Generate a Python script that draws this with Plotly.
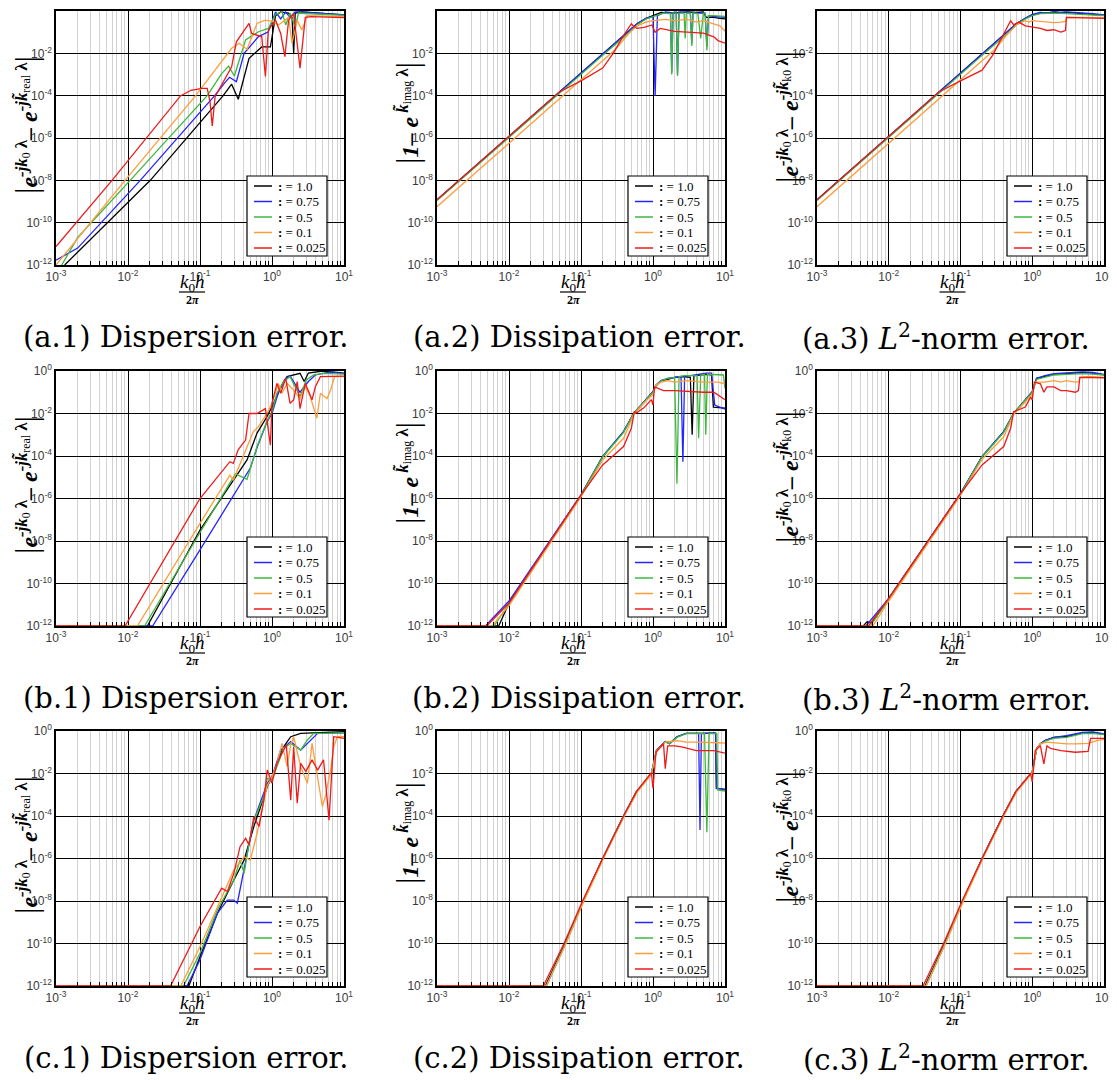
import plotly.graph_objects as go

PAGE_W, PAGE_H = 1117, 1080
OFF = 8                      # default body margin of the html page
W, H = PAGE_W - OFF, PAGE_H - OFF

# ---------------- data ----------------
# Panel a.1  Dispersion error
A1_BLACK_X = [1.32e-3, 0.0204, 0.21, 0.24, 0.275, 0.34, 0.48, 0.72, 0.95, 1.12, 1.32, 1.7, 1.9, 2.0, 2.1, 2.6, 10]
A1_BLACK_Y = [1e-12, 1e-8, 1e-4, 2e-4, 3.5e-4, 6.8e-5, 5.8e-3, 0.02, 0.02, 0.6, 0.9, 0.8, 0.5, 0.01, 0.8, 0.9, 0.65]
A1_BLUE_X = [1e-3, 2e-3, 0.0148, 0.16, 0.22, 0.257, 0.32, 0.41, 0.65, 0.89, 1.12, 1.32, 1.55, 1.78, 2.1, 2.5, 10]
A1_BLUE_Y = [1.7e-12, 6.3e-12, 1e-8, 1e-4, 4e-4, 7.4e-4, 4.6e-4, 0.01, 0.062, 0.105, 0.9, 0.42, 0.9, 0.5, 0.9, 0.9, 0.65]
A1_GREEN_X = [1.2e-3, 2e-3, 0.0107, 0.126, 0.2, 0.25, 0.30, 0.43, 0.65, 0.89, 1.12, 1.38, 1.55, 1.78, 2.1, 2.34, 2.9, 10]
A1_GREEN_Y = [1e-12, 2e-11, 1e-8, 1e-4, 1.1e-3, 2.5e-3, 8.5e-4, 0.043, 0.105, 0.15, 0.7, 0.9, 0.22, 0.8, 0.18, 0.8, 0.76, 0.62]
A1_ORANGE_X = [1e-3, 9.1e-3, 0.087, 0.275, 0.35, 0.45, 0.62, 0.81, 1.0, 1.23, 1.7, 1.9, 2.24, 2.6, 3.1, 10]
A1_ORANGE_Y = [1e-12, 1e-8, 1e-4, 0.0174, 0.03, 0.0155, 0.26, 0.37, 0.32, 0.22, 0.5, 0.03, 0.35, 0.126, 0.6, 0.54]
A1_RED_X = [1e-3, 6e-3, 0.054, 0.075, 0.107, 0.126, 0.138, 0.148, 0.162, 0.275, 0.32, 0.48, 0.52, 0.72, 0.81, 0.89,
            1.12, 1.32, 1.51, 1.7, 2.0, 2.14, 2.45, 2.9, 3.5, 10]
A1_RED_Y = [7.4e-12, 1e-8, 1e-4, 1.8e-4, 2.2e-4, 2.2e-4, 5e-5, 3.7e-6, 9e-5, 2.3e-3, 0.035, 0.26, 0.087, 0.062, 8e-4, 0.126,
            0.37, 0.087, 6.9e-3, 0.37, 0.74, 0.11, 2e-3, 0.5, 0.54, 0.49]

# Panel a.2  Dissipation error
A2_BLACK_X = [1e-3, 0.1, 0.4, 0.6, 0.8, 1.0, 1.3, 2.0, 3.0, 4.0, 5.0, 5.5, 7.0, 8.5, 10]
A2_BLACK_Y = [1.2e-9, 1.2e-3, 0.075, 0.25, 0.45, 0.6, 0.85, 0.8, 0.9, 0.85, 0.9, 0.5, 0.5, 0.45, 0.42]
A2_BLUE_X = [1e-3, 0.1, 0.4, 0.6, 0.8, 1.0, 1.07, 1.15, 1.5, 1.75, 1.82, 1.9, 2.1, 2.19, 2.3, 2.7, 3.0, 3.3, 3.46, 3.6,
             4.2, 5.3, 5.6, 5.9, 7.0, 10]
A2_BLUE_Y = [1.2e-9, 1.2e-3, 0.074, 0.25, 0.45, 0.55, 1e-4, 0.6, 0.9, 0.85, 1.2e-3, 0.85, 0.9, 1e-3, 0.9, 0.9, 0.9, 0.85,
             0.03, 0.85, 0.8, 0.8, 0.02, 0.6, 0.55, 0.5]
A2_GREEN_X = [1e-3, 0.1, 0.2, 0.4, 0.6, 0.8, 1.0, 1.1, 1.4, 1.75, 1.82, 1.9, 2.1, 2.19, 2.3, 2.7, 2.8, 2.9, 3.3, 3.46,
              3.6, 4.2, 4.6, 5.0, 5.3, 5.6, 5.9, 7.0, 10]
A2_GREEN_Y = [1.1e-9, 1.1e-3, 8e-3, 0.06, 0.22, 0.42, 0.55, 0.6, 0.8, 0.75, 1e-3, 0.8, 0.8, 8.5e-4, 0.8, 0.8, 0.05, 0.8,
              0.8, 0.022, 0.8, 0.75, 0.05, 0.8, 0.75, 0.014, 0.6, 0.6, 0.55]
A2_ORANGE_X = [1e-3, 0.1, 0.3, 0.45, 0.6, 0.8, 1.0, 1.5, 2.0, 3.0, 4.0, 5.0, 7.0, 8.5, 10]
A2_ORANGE_Y = [5.7e-10, 5.7e-4, 0.015, 0.08, 0.2, 0.3, 0.35, 0.4, 0.35, 0.4, 0.3, 0.35, 0.25, 0.2, 0.11]
A2_RED_X = [1e-3, 0.05, 0.1, 0.2, 0.28, 0.38, 0.5, 0.53, 0.6, 0.75, 0.97, 1.07, 1.26, 2.0, 3.0, 5.0, 7.0, 8.0, 10]
A2_RED_Y = [1.2e-9, 1.5e-4, 5e-4, 2e-3, 1e-2, 0.06, 0.25, 0.2, 0.15, 0.17, 0.22, 0.1, 0.15, 0.11, 0.1, 0.09, 0.06, 0.04, 0.03]

# Panel a.3  L2-norm error
A3_BLACK_X = [1e-3, 0.1, 0.4, 0.6, 0.8, 1.0, 1.3, 2.0, 3.0, 5.0, 7.0, 10]
A3_BLACK_Y = [1.2e-9, 1.2e-3, 0.075, 0.25, 0.45, 0.65, 0.8, 0.85, 0.85, 0.75, 0.7, 0.62]
A3_BLUE_X = [1e-3, 0.1, 0.4, 0.6, 0.8, 1.0, 1.3, 1.6, 2.0, 2.5, 3.0, 4.0, 5.0, 7.0, 10]
A3_BLUE_Y = [1.2e-9, 1.2e-3, 0.075, 0.25, 0.45, 0.7, 0.85, 0.8, 0.95, 0.85, 0.9, 0.85, 0.8, 0.75, 0.65]
A3_GREEN_X = [1e-3, 0.1, 0.2, 0.4, 0.6, 0.8, 1.0, 1.3, 2.0, 3.0, 5.0, 7.0, 10]
A3_GREEN_Y = [1.1e-9, 1.1e-3, 8e-3, 0.06, 0.22, 0.42, 0.6, 0.75, 0.8, 0.75, 0.7, 0.65, 0.6]
A3_ORANGE_X = [1e-3, 0.1, 0.3, 0.45, 0.6, 0.8, 0.9, 1.0, 1.5, 2.0, 2.5, 2.9, 3.0, 5.0, 10]
A3_ORANGE_Y = [5.7e-10, 5.7e-4, 0.015, 0.08, 0.22, 0.35, 0.3, 0.35, 0.3, 0.28, 0.3, 0.32, 0.5, 0.5, 0.48]
A3_RED_X = [1e-3, 0.05, 0.1, 0.2, 0.28, 0.38, 0.5, 0.55, 0.65, 0.8, 1.0, 1.3, 1.6, 2.0, 2.5, 2.9, 3.0, 5.0, 10]
A3_RED_Y = [1.2e-9, 1.5e-4, 5e-4, 1.6e-3, 8e-3, 0.06, 0.35, 0.22, 0.3, 0.2, 0.18, 0.15, 0.12, 0.13, 0.1, 0.12, 0.5, 0.48, 0.45]

# Panel b.1
B1_BLACK_X = [1e-3, 0.0186, 0.1, 0.45, 0.62, 0.85, 1.0, 1.23, 1.45, 1.62, 2.45, 2.8, 3.2, 5.0, 10]
B1_BLACK_Y = [1e-12, 1e-12, 3.3e-8, 6.5e-5, 1.2e-3, 7e-3, 0.021, 0.107, 0.32, 0.54, 0.78, 0.32, 0.8, 1.0, 0.8]
B1_BLUE_X = [1e-3, 0.022, 0.1, 0.5, 0.62, 0.85, 1.0, 1.23, 1.55, 1.78, 2.45, 3.2, 4.0, 5.2, 6.5, 10]
B1_BLUE_Y = [1e-12, 1e-12, 3.8e-9, 2.7e-5, 2.5e-4, 4e-3, 0.01, 0.1, 0.45, 0.6, 0.1, 0.32, 0.65, 0.8, 0.9, 0.75]
B1_GREEN_X = [1e-3, 0.017, 0.1, 0.31, 0.45, 0.62, 0.85, 1.0, 1.17, 1.45, 1.78, 2.45, 3.0, 3.8, 5.2, 10]
B1_GREEN_Y = [1e-12, 1e-12, 2.5e-8, 1.45e-5, 8e-6, 2.8e-4, 4.2e-3, 0.0126, 0.09, 0.32, 0.54, 0.063, 0.38, 0.65, 0.78, 0.72]
B1_ORANGE_X = [1e-3, 0.0135, 0.1, 0.26, 0.29, 0.4, 0.55, 0.65, 0.85, 1.0, 1.23, 1.38, 1.62, 2.0, 2.45, 2.9, 3.4, 4.2,
               4.7, 5.8, 6.5, 7.4, 10]
B1_ORANGE_Y = [1e-12, 1e-12, 6.8e-8, 1.26e-5, 7.2e-6, 9.3e-5, 1.4e-3, 2.4e-3, 0.01, 0.03, 0.26, 0.09, 0.26, 0.126, 0.05,
               0.18, 0.063, 0.006, 0.09, 0.05, 0.126, 0.54, 0.54]
B1_RED_X = [1e-3, 9.1e-3, 0.1, 0.26, 0.29, 0.34, 0.43, 0.48, 0.62, 0.81, 0.95, 1.0, 1.17, 1.32, 1.55, 1.78, 2.0, 2.24,
            2.45, 2.9, 3.6, 4.0, 4.7, 10]
B1_RED_Y = [1e-12, 1e-12, 1e-6, 5.4e-5, 4.5e-5, 2e-4, 5.6e-4, 0.01, 0.01, 0.017, 3.2e-4, 0.03, 0.26, 0.09, 0.45, 0.03,
            0.044, 0.32, 0.017, 0.26, 0.044, 0.18, 0.54, 0.57]

# Panel b.2
B2_BLACK_X = [1e-3, 7.2e-3, 0.01, 0.1, 0.2, 0.39, 0.54, 1.0, 1.1, 1.3, 1.6, 2.0, 2.6, 3.3, 3.5, 3.7, 4.5, 5.5, 6.5, 6.9, 10]
B2_BLACK_Y = [1e-12, 1e-12, 1.2e-11, 1.45e-6, 9.3e-5, 1.4e-3, 0.01, 0.107, 0.2, 0.35, 0.4, 0.5, 0.55, 0.5, 1e-3, 0.6,
              0.65, 0.7, 0.65, 0.02, 0.018]
B2_BLUE_X = [1e-3, 4.7e-3, 0.01, 0.1, 0.2, 0.39, 0.54, 1.0, 1.1, 1.3, 1.6, 2.0, 2.45, 2.6, 2.75, 3.3, 4.5, 5.5, 6.5, 7.2, 10]
B2_BLUE_Y = [1e-12, 1e-12, 1.5e-11, 1.5e-6, 9.5e-5, 1.4e-3, 0.01, 0.107, 0.22, 0.35, 0.45, 0.5, 0.55, 5.4e-5, 0.6, 0.6,
             0.75, 0.8, 0.8, 0.025, 0.016]
B2_GREEN_X = [1e-3, 6.2e-3, 0.01, 0.1, 0.2, 0.39, 0.54, 1.0, 1.1, 1.3, 1.6, 2.0, 2.15, 2.3, 2.8, 3.3, 4.1, 4.3, 4.6, 5.2,
              5.4, 5.7, 7.0, 9.5, 10]
B2_GREEN_Y = [1e-12, 1e-12, 1.1e-11, 1.4e-6, 9e-5, 1.3e-3, 0.01, 0.1, 0.2, 0.35, 0.45, 0.5, 5e-6, 0.55, 0.6, 0.6, 0.6,
              6.8e-4, 0.65, 0.7, 1e-3, 0.7, 0.7, 0.65, 0.15]
B2_ORANGE_X = [1e-3, 5.8e-3, 0.01, 0.1, 0.2, 0.39, 0.54, 0.8, 1.0, 1.1, 1.3, 1.6, 2.0, 3.0, 5.0, 8.0, 10]
B2_ORANGE_Y = [1e-12, 1e-12, 9e-12, 1.2e-6, 6.5e-5, 6.8e-4, 0.009, 0.04, 0.08, 0.22, 0.3, 0.35, 0.3, 0.35, 0.3, 0.3, 0.25]
B2_RED_X = [1e-3, 4.9e-3, 0.01, 0.1, 0.2, 0.39, 0.5, 0.55, 0.6, 0.74, 0.95, 1.0, 1.05, 1.2, 1.4, 2.0, 3.0, 5.0, 7.0, 10]
B2_RED_Y = [1e-12, 1e-12, 1.2e-11, 1.45e-6, 3.8e-5, 2.8e-4, 2e-3, 0.012, 0.011, 0.018, 0.045, 0.025, 0.18, 0.15, 0.12,
            0.12, 0.11, 0.1, 0.1, 0.044]

# Panel b.3
B3_BLACK_X = [1e-3, 4.4e-3, 5e-3, 5.8e-3, 0.01, 0.1, 0.2, 0.4, 0.55, 1.0, 1.15, 1.5, 2.0, 3.0, 4.0, 5.0, 7.0, 10]
B3_BLACK_Y = [1e-12, 1e-12, 1.6e-12, 1.4e-12, 2e-11, 1.7e-6, 9.3e-5, 1.4e-3, 0.01, 0.107, 0.45, 0.55, 0.7, 0.75, 0.8,
              0.85, 0.8, 0.65]
B3_BLUE_X = [1e-3, 4.8e-3, 0.01, 0.1, 0.2, 0.4, 0.55, 1.0, 1.15, 1.5, 2.0, 3.0, 4.0, 5.0, 7.0, 10]
B3_BLUE_Y = [1e-12, 1e-12, 2e-11, 1.7e-6, 9.5e-5, 1.4e-3, 0.01, 0.107, 0.45, 0.6, 0.75, 0.8, 0.85, 0.9, 0.85, 0.7]
B3_GREEN_X = [1e-3, 5.5e-3, 0.01, 0.1, 0.2, 0.4, 0.55, 1.0, 1.15, 1.5, 2.0, 3.0, 5.0, 7.0, 10]
B3_GREEN_Y = [1e-12, 1e-12, 1.8e-11, 1.6e-6, 9e-5, 1.3e-3, 0.01, 0.1, 0.4, 0.5, 0.65, 0.7, 0.75, 0.72, 0.65]
B3_ORANGE_X = [1e-3, 6e-3, 0.01, 0.1, 0.2, 0.4, 0.55, 1.0, 1.1, 1.5, 2.0, 2.5, 3.0, 4.0, 4.5, 4.6, 6.0, 10]
B3_ORANGE_Y = [1e-12, 1e-12, 1.5e-11, 1.4e-6, 7e-5, 8e-4, 0.009, 0.08, 0.3, 0.3, 0.35, 0.3, 0.35, 0.3, 0.32, 0.5, 0.55, 0.5]
B3_RED_X = [1e-3, 5.2e-3, 0.01, 0.1, 0.2, 0.4, 0.5, 0.55, 0.8, 0.95, 1.0, 1.07, 1.3, 1.45, 1.6, 2.0, 2.5, 3.0, 4.0, 4.4,
            4.6, 6.0, 10]
B3_RED_Y = [1e-12, 1e-12, 2e-11, 1.7e-6, 3.8e-5, 2.8e-4, 2e-3, 0.012, 0.02, 0.06, 0.044, 0.3, 0.25, 0.1, 0.18, 0.18, 0.12,
            0.12, 0.1, 0.12, 0.5, 0.5, 0.48]

# Panel c.1
C1_BLACK_X = [1e-3, 0.07, 0.1, 0.174, 0.295, 0.41, 0.56, 0.86, 1.0, 1.45, 1.82, 2.5, 10]
C1_BLACK_Y = [1e-12, 1e-12, 2.4e-11, 2.6e-9, 9.8e-8, 8.5e-7, 3.2e-5, 2.4e-3, 7e-3, 0.18, 0.54, 0.78, 0.93]
C1_BLUE_X = [1e-3, 0.066, 0.1, 0.174, 0.24, 0.295, 0.33, 0.41, 0.56, 0.86, 1.0, 1.32, 1.82, 2.5, 3.1, 4.3, 10]
C1_BLUE_Y = [1e-12, 1e-12, 1.7e-11, 2.6e-9, 1.1e-8, 1.1e-8, 7.9e-9, 2.9e-7, 6.5e-5, 3.5e-3, 7e-3, 0.126, 0.32, 0.126,
             0.26, 0.78, 0.78]
C1_GREEN_X = [1e-3, 0.059, 0.1, 0.174, 0.295, 0.36, 0.41, 0.48, 0.56, 0.77, 0.86, 1.0, 1.17, 1.45, 1.82, 2.5, 3.1, 3.8, 10]
C1_GREEN_Y = [1e-12, 1e-12, 3.5e-11, 3.8e-9, 9.8e-8, 8.5e-7, 2e-7, 5.1e-6, 6.5e-5, 8e-4, 5.9e-3, 5e-3, 0.021, 0.15,
              0.26, 0.126, 0.38, 0.78, 0.78]
C1_ORANGE_X = [1e-3, 0.054, 0.1, 0.174, 0.295, 0.41, 0.5, 0.62, 0.85, 1.0, 1.17, 1.38, 1.62, 1.82, 2.0, 2.5, 3.1, 3.6,
               4.3, 5.0, 5.5, 6.5, 7.2, 8.1, 10]
C1_ORANGE_Y = [1e-12, 1e-12, 7e-11, 5.4e-9, 2.9e-7, 1.2e-6, 8.5e-7, 1.5e-5, 2.4e-3, 7e-3, 0.03, 0.26, 0.021, 0.22, 0.54,
               0.021, 3.5e-3, 0.26, 7e-3, 2.8e-4, 8e-4, 0.0145, 0.18, 0.54, 0.54]
C1_RED_X = [1e-3, 0.039, 0.1, 0.2, 0.24, 0.295, 0.36, 0.43, 0.48, 0.56, 0.66, 0.77, 0.86, 1.0, 1.17, 1.58, 1.82, 2.0,
            2.24, 2.5, 2.95, 3.6, 4.3, 5.2, 6.2, 7.2, 10]
C1_RED_Y = [1e-12, 1e-12, 6.3e-10, 4e-8, 2.8e-8, 2e-7, 3.6e-6, 8.9e-6, 4.4e-6, 9.3e-5, 3.2e-5, 5.6e-4, 0.0145, 3.5e-3,
            0.03, 0.22, 5.6e-4, 0.18, 4e-4, 0.03, 0.0126, 0.044, 0.0145, 0.044, 6.3e-5, 0.54, 0.45]

# Panel c.2
C2_BLACK_X = [1e-3, 0.032, 0.06, 0.107, 0.2, 0.39, 0.59, 0.95, 1.12, 1.48, 1.7, 2.15, 2.9, 3.8, 5.0, 6.5, 7.4, 7.6, 10]
C2_BLACK_Y = [1e-12, 1e-12, 1e-10, 1e-8, 1e-6, 1e-4, 1.4e-3, 1e-2, 0.126, 0.32, 0.25, 0.54, 0.78, 0.8, 0.78, 0.8, 0.8,
              2e-3, 1.8e-3]
C2_BLUE_X = [1e-3, 0.033, 0.061, 0.108, 0.2, 0.39, 0.59, 0.95, 1.12, 1.48, 1.7, 2.15, 2.9, 3.8, 4.3, 4.5, 4.7, 6.5, 7.4,
             7.6, 10]
C2_BLUE_Y = [1e-12, 1e-12, 1e-10, 1e-8, 1e-6, 1e-4, 1.4e-3, 1e-2, 0.126, 0.32, 0.25, 0.54, 0.78, 0.8, 0.78, 2.2e-5, 0.75,
             0.8, 0.8, 2e-3, 1.8e-3]
C2_GREEN_X = [1e-3, 0.033, 0.061, 0.108, 0.2, 0.39, 0.59, 0.95, 1.12, 1.48, 1.7, 2.15, 2.9, 3.8, 5.2, 5.6, 6.0, 7.0, 7.7,
              7.9, 10]
C2_GREEN_Y = [1e-12, 1e-12, 1e-10, 1e-8, 1e-6, 1e-4, 1.35e-3, 1e-2, 0.12, 0.3, 0.25, 0.5, 0.75, 0.75, 0.75, 1.7e-5, 0.75,
              0.75, 0.75, 1.7e-3, 1.5e-3]
C2_ORANGE_X = [1e-3, 0.033, 0.062, 0.11, 0.205, 0.4, 0.6, 0.95, 1.12, 1.48, 2.15, 2.9, 4.0, 6.0, 8.0, 10]
C2_ORANGE_Y = [1e-12, 1e-12, 1e-10, 1e-8, 1e-6, 1e-4, 1.3e-3, 9e-3, 0.12, 0.3, 0.35, 0.3, 0.3, 0.3, 0.28, 0.27]
C2_RED_X = [1e-3, 0.03, 0.058, 0.105, 0.2, 0.39, 0.59, 0.95, 1.0, 1.1, 1.4, 1.48, 1.6, 2.0, 2.5, 3.0, 4.0, 5.0, 7.0, 10]
C2_RED_Y = [1e-12, 1e-12, 1e-10, 1e-8, 1e-6, 1e-4, 1.4e-3, 1.1e-2, 2e-3, 0.1, 0.25, 0.017, 0.2, 0.2, 0.18, 0.15, 0.12,
            0.12, 0.12, 0.09]

# Panel c.3
C3_BLACK_X = [1e-3, 0.032, 0.06, 0.107, 0.2, 0.39, 0.59, 0.95, 1.0, 1.15, 1.3, 1.5, 2.0, 3.0, 5.0, 7.0, 10]
C3_BLACK_Y = [1e-12, 1e-12, 1e-10, 1e-8, 1e-6, 1e-4, 1.4e-3, 1e-2, 0.012, 0.15, 0.25, 0.35, 0.5, 0.55, 0.8, 0.85, 0.7]
C3_BLUE_X = [1e-3, 0.033, 0.061, 0.108, 0.2, 0.39, 0.59, 0.95, 1.0, 1.15, 1.3, 1.5, 2.0, 3.0, 5.0, 7.0, 10]
C3_BLUE_Y = [1e-12, 1e-12, 1e-10, 1e-8, 1e-6, 1e-4, 1.4e-3, 1e-2, 0.012, 0.15, 0.25, 0.35, 0.5, 0.6, 0.85, 0.9, 0.72]
C3_GREEN_X = [1e-3, 0.033, 0.061, 0.108, 0.2, 0.39, 0.59, 0.95, 1.0, 1.15, 1.3, 1.5, 2.0, 3.0, 5.0, 7.0, 10]
C3_GREEN_Y = [1e-12, 1e-12, 1e-10, 1e-8, 1e-6, 1e-4, 1.35e-3, 1e-2, 0.011, 0.14, 0.24, 0.33, 0.45, 0.5, 0.75, 0.78, 0.68]
C3_ORANGE_X = [1e-3, 0.033, 0.062, 0.11, 0.205, 0.4, 0.6, 0.95, 1.0, 1.15, 1.3, 1.6, 2.0, 3.0, 4.0, 6.0, 8.0, 10]
C3_ORANGE_Y = [1e-12, 1e-12, 1e-10, 1e-8, 1e-6, 1e-4, 1.3e-3, 9e-3, 0.011, 0.15, 0.25, 0.3, 0.28, 0.25, 0.25, 0.26,
               0.35, 0.4]
C3_RED_X = [1e-3, 0.03, 0.058, 0.105, 0.2, 0.39, 0.59, 0.95, 1.0, 1.1, 1.3, 1.45, 1.6, 1.8, 2.5, 4.0, 6.0, 6.5, 10]
C3_RED_Y = [1e-12, 1e-12, 1e-10, 1e-8, 1e-6, 1e-4, 1.4e-3, 1e-2, 4e-3, 0.12, 0.2, 0.028, 0.2, 0.15, 0.12, 0.1, 0.11,
            0.45, 0.45]

SERIES_LABELS = ["1.0", "0.75", "0.5", "0.1", "0.025"]
X_TICKS = [1e-3, 1e-2, 1e-1, 1, 10]
X_TICK_TEXT = ["10<sup>-3</sup>", "10<sup>-2</sup>", "10<sup>-1</sup>", "10<sup>0</sup>", "10<sup>1</sup>"]
Y_TICKS = [1e-12, 1e-10, 1e-8, 1e-6, 1e-4, 1e-2, 1]
Y_TICK_TEXT = ["10<sup>-12</sup>", "10<sup>-10</sup>", "10<sup>-8</sup>", "10<sup>-6</sup>", "10<sup>-4</sup>",
               "10<sup>-2</sup>", "10<sup>0</sup>"]
CAPTIONS = [
    "(a.1) Dispersion error.", "(a.2) Dissipation error.", "(a.3) <i>L</i><sup>2</sup>-norm error.",
    "(b.1) Dispersion error.", "(b.2) Dissipation error.", "(b.3) <i>L</i><sup>2</sup>-norm error.",
    "(c.1) Dispersion error.", "(c.2) Dissipation error.", "(c.3) <i>L</i><sup>2</sup>-norm error.",
]

PANELS = [
    [(A1_BLACK_X, A1_BLACK_Y), (A1_BLUE_X, A1_BLUE_Y), (A1_GREEN_X, A1_GREEN_Y), (A1_ORANGE_X, A1_ORANGE_Y), (A1_RED_X, A1_RED_Y)],
    [(A2_BLACK_X, A2_BLACK_Y), (A2_BLUE_X, A2_BLUE_Y), (A2_GREEN_X, A2_GREEN_Y), (A2_ORANGE_X, A2_ORANGE_Y), (A2_RED_X, A2_RED_Y)],
    [(A3_BLACK_X, A3_BLACK_Y), (A3_BLUE_X, A3_BLUE_Y), (A3_GREEN_X, A3_GREEN_Y), (A3_ORANGE_X, A3_ORANGE_Y), (A3_RED_X, A3_RED_Y)],
    [(B1_BLACK_X, B1_BLACK_Y), (B1_BLUE_X, B1_BLUE_Y), (B1_GREEN_X, B1_GREEN_Y), (B1_ORANGE_X, B1_ORANGE_Y), (B1_RED_X, B1_RED_Y)],
    [(B2_BLACK_X, B2_BLACK_Y), (B2_BLUE_X, B2_BLUE_Y), (B2_GREEN_X, B2_GREEN_Y), (B2_ORANGE_X, B2_ORANGE_Y), (B2_RED_X, B2_RED_Y)],
    [(B3_BLACK_X, B3_BLACK_Y), (B3_BLUE_X, B3_BLUE_Y), (B3_GREEN_X, B3_GREEN_Y), (B3_ORANGE_X, B3_ORANGE_Y), (B3_RED_X, B3_RED_Y)],
    [(C1_BLACK_X, C1_BLACK_Y), (C1_BLUE_X, C1_BLUE_Y), (C1_GREEN_X, C1_GREEN_Y), (C1_ORANGE_X, C1_ORANGE_Y), (C1_RED_X, C1_RED_Y)],
    [(C2_BLACK_X, C2_BLACK_Y), (C2_BLUE_X, C2_BLUE_Y), (C2_GREEN_X, C2_GREEN_Y), (C2_ORANGE_X, C2_ORANGE_Y), (C2_RED_X, C2_RED_Y)],
    [(C3_BLACK_X, C3_BLACK_Y), (C3_BLUE_X, C3_BLUE_Y), (C3_GREEN_X, C3_GREEN_Y), (C3_ORANGE_X, C3_ORANGE_Y), (C3_RED_X, C3_RED_Y)],
]

# ---------------- styling ----------------
COLORS = ["#000000", "#2424ff", "#3cb83c", "#ff9d3c", "#ee1a1a"]
SERIF = "Liberation Serif"
SANS = "Liberation Sans"
# page-pixel positions of the plot areas
COL_X = [(56, 344), (437, 725), (817, 1104)]
ROW_Y = [(11, 265), (371, 626), (731, 986)]
CAPTION_CX = [186, 579, 946]
YLABEL_DY = [114, 102, 106]
BAR = '<span style="font-size:32px">|</span>'
YLABELS = [
    BAR + "<b><i>e</i></b><sup><b><i>-jk</i></b><sub>0</sub><b> λ</b></sup><b><i>– e</i></b>"
          "<sup><b><i>-jk̃</i></b><sub>real</sub><b> λ</b></sup>" + BAR,
    BAR + "<b><i>1</i></b><b>– <i>e</i></b><sup><b><i> k̃</i></b><sub>imag</sub><b> λ</b></sup>" + BAR,
    BAR + "<b><i>e</i></b><sup><b><i>-jk</i></b><sub>0</sub><b> λ</b></sup><b><i>– e</i></b>"
          "<sup><b><i>-jk̃</i></b><sub>k0</sub><b> λ</b></sup>" + BAR,
]
MINOR_X = [m * 10.0 ** e for e in range(-3, 1) for m in range(2, 10)]


def fx(p):
    """page pixel x -> paper fraction"""
    return (p - OFF) / W


def fy(p):
    """page pixel y -> paper fraction"""
    return 1 - (p - OFF) / H


fig = go.Figure()
shapes = []
annotations = []

for i, series in enumerate(PANELS):
    r, c = divmod(i, 3)
    n = "" if i == 0 else str(i + 1)
    x0, x1 = COL_X[c]
    y0, y1 = ROW_Y[r]
    for k, (xs, ys) in enumerate(series):
        fig.add_trace(go.Scatter(
            x=xs, y=ys, mode="lines", name="σ = " + SERIES_LABELS[k],
            line=dict(color=COLORS[k], width=1.3),
            xaxis="x" + n, yaxis="y" + n, showlegend=False, hoverinfo="skip"))

    fig.update_layout({
        "xaxis" + n: dict(
            type="log", range=[-3, 1], domain=[fx(x0), fx(x1)], anchor="y" + n, automargin=False,
            tickmode="array", tickvals=X_TICKS, ticktext=X_TICK_TEXT,
            tickfont=dict(family=SANS, size=12, color="#3a3a3a"),
            showline=True, linecolor="black", linewidth=1.5, mirror=True,
            showgrid=True, gridcolor="black", gridwidth=1.2, zeroline=False, ticks="",
            minor=dict(tickmode="array", tickvals=MINOR_X, showgrid=True, gridcolor="#d2d2d2",
                       gridwidth=1, ticks="inside", ticklen=4, tickcolor="black", tickwidth=1),
        ),
        "yaxis" + n: dict(
            type="log", range=[-12, 0], domain=[fy(y1), fy(y0)], anchor="x" + n, automargin=False,
            tickmode="array", tickvals=Y_TICKS, ticktext=Y_TICK_TEXT,
            tickfont=dict(family=SANS, size=12, color="#3a3a3a"),
            showline=True, linecolor="black", linewidth=1.5, mirror=True,
            showgrid=True, gridcolor="black", gridwidth=1.2, zeroline=False, ticks="",
        ),
    })

    # custom legend box
    shapes.append(dict(type="rect", xref="paper", yref="paper",
                       x0=fx(x1 - 97), x1=fx(x1 - 17), y0=fy(y1 - 9), y1=fy(y1 - 89),
                       line=dict(color="black", width=1.2), fillcolor="white", layer="above"))
    for k, lab in enumerate(SERIES_LABELS):
        ey = y1 - 79 + 15.5 * k
        shapes.append(dict(type="line", xref="paper", yref="paper",
                           x0=fx(x1 - 90), x1=fx(x1 - 72), y0=fy(ey), y1=fy(ey),
                           line=dict(color=COLORS[k], width=1.5), layer="above"))
        annotations.append(dict(xref="paper", yref="paper", x=fx(x1 - 68), y=fy(ey),
                                xanchor="left", yanchor="middle", showarrow=False,
                                text="<b>:</b> = " + lab,
                                font=dict(family=SERIF, size=13, color="black")))

    # x-axis label (fraction k0 h / 2π)
    cx = (x0 + x1) / 2 - 8
    annotations.append(dict(xref="paper", yref="paper", x=fx(cx), y=fy(y1 + 18),
                            xanchor="center", yanchor="middle", showarrow=False,
                            text="<i>k</i><sub>0</sub><i>h</i>",
                            font=dict(family=SERIF, size=19, color="black")))
    shapes.append(dict(type="line", xref="paper", yref="paper",
                       x0=fx(cx - 13), x1=fx(cx + 13), y0=fy(y1 + 27), y1=fy(y1 + 27),
                       line=dict(color="black", width=1.2)))
    annotations.append(dict(xref="paper", yref="paper", x=fx(cx), y=fy(y1 + 35),
                            xanchor="center", yanchor="middle", showarrow=False,
                            text="<b>2<i>π</i></b>",
                            font=dict(family=SERIF, size=12, color="black")))

    # y-axis label
    annotations.append(dict(xref="paper", yref="paper", x=fx(x0 - 30), y=fy(y0 + YLABEL_DY[c]),
                            xanchor="center", yanchor="middle", showarrow=False, textangle=-90,
                            text=YLABELS[c],
                            font=dict(family=SERIF, size=24, color="black")))

    # caption
    annotations.append(dict(xref="paper", yref="paper", x=fx(CAPTION_CX[c]), y=fy(y1 + 72),
                            xanchor="center", yanchor="middle", showarrow=False,
                            text=CAPTIONS[i],
                            font=dict(family="DejaVu Serif", size=29, color="black")))

fig.update_layout(
    width=W, height=H, margin=dict(l=0, r=0, t=0, b=0, autoexpand=False),
    paper_bgcolor="white", plot_bgcolor="white",
    shapes=shapes, annotations=annotations, showlegend=False,
)

fig.write_html("out.html")
